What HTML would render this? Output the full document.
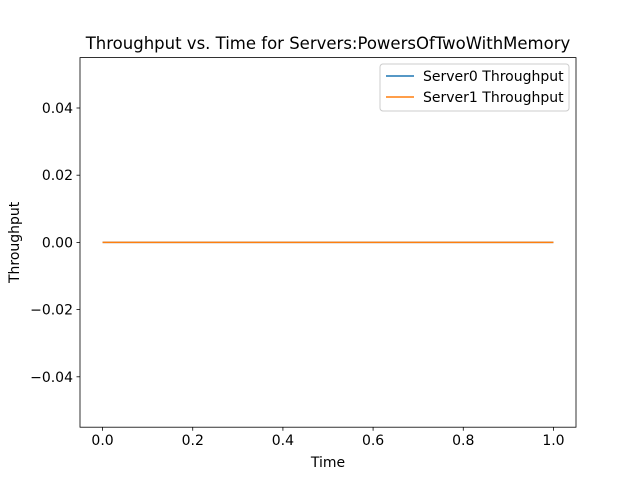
<!DOCTYPE html>
<html><head><meta charset="utf-8"><style>
body{margin:0;background:#fff;}
svg text{font-family:"DejaVu Sans","Liberation Sans",sans-serif;fill:#000;}
</style></head><body>
<svg width="640" height="480" viewBox="0 0 640 480">
<rect x="0" y="0" width="640" height="480" fill="#fff"/>
<text x="328" y="49" font-size="16.5" text-anchor="middle">Throughput vs. Time for Servers:PowersOfTwoWithMemory</text>
<g id="plot"></g>
<rect x="80" y="57.6" width="496" height="369.6" fill="none" stroke="#000" stroke-width="0.8"/>
<text x="328" y="467" font-size="14" text-anchor="middle">Time</text>
<text transform="translate(19,242.4) rotate(-90)" font-size="14" text-anchor="middle">Throughput</text>
<g>
<rect x="380" y="64" width="189" height="47" rx="3" fill="#fff" fill-opacity="0.8" stroke="#ccc"/>
<line x1="386" y1="76" x2="414" y2="76" stroke="#1f77b4" stroke-width="1.5"/>
<text x="423" y="81" font-size="14">Server0 Throughput</text>
<line x1="386" y1="97" x2="414" y2="97" stroke="#ff7f0e" stroke-width="1.5"/>
<text x="423" y="102" font-size="14">Server1 Throughput</text>
</g>
</svg>
<script>
const times=[0,1];
const server0=[0,0];
const server1=[0,0];
const xTicks=[0,0.2,0.4,0.6,0.8,1.0];
const xTickLabels=["0.0","0.2","0.4","0.6","0.8","1.0"];
const yTicks=[-0.04,-0.02,0,0.02,0.04];
const yTickLabels=["\u22120.04","\u22120.02","0.00","0.02","0.04"];
const L=80,R=576,T=57.6,B=427.2,x0=-0.05,x1=1.05,y0=-0.055,y1=0.055;
const sx=v=>L+(v-x0)/(x1-x0)*(R-L);
const sy=v=>B-(v-y0)/(y1-y0)*(B-T);
const NS="http://www.w3.org/2000/svg";
const g=document.getElementById('plot');
function mk(t,a){const e=document.createElementNS(NS,t);for(const k in a)e.setAttribute(k,a[k]);g.appendChild(e);return e;}
xTicks.forEach((v,i)=>{
 const l=mk('line',{x1:sx(v),x2:sx(v),y1:B,y2:B+3.5,stroke:'#000','stroke-width':0.8});
 
 
 const t=mk('text',{x:sx(v),y:B+18,'font-size':14,'text-anchor':'middle'});
 t.textContent=xTickLabels[i];
 
 
});
yTicks.forEach((v,i)=>{
 const l=mk('line',{x1:L-3.5,x2:L,y1:sy(v),y2:sy(v),stroke:'#000','stroke-width':0.8});
 
 
 const t=mk('text',{x:L-7,y:sy(v)+5,'font-size':14,'text-anchor':'end'});
 t.textContent=yTickLabels[i];
 
 
});
[[server0,'#1f77b4','server0-line'],[server1,'#ff7f0e','server1-line']].forEach(([s,c,n])=>{
 const p=mk('polyline',{points:times.map((t,i)=>sx(t)+','+sy(s[i])).join(' '),fill:'none',stroke:c,'stroke-width':1.5});
 
 
});
</script>
</body></html>
